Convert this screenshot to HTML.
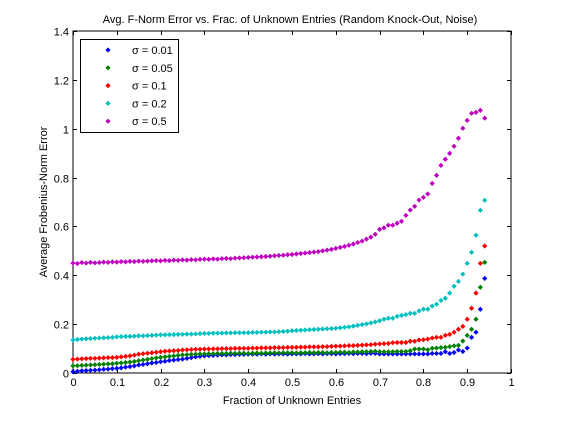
<!DOCTYPE html>
<html><head><meta charset="utf-8"><style>
body{margin:0;background:#fff;}
svg text{font-family:"Liberation Sans",sans-serif;font-size:11px;fill:#000;}
</style></head><body>
<svg id="chart" width="561" height="420">
<rect x="0" y="0" width="561" height="420" fill="#fff"/>
<g id="axes"></g>
<g id="marks"></g>
<g id="legend"></g>
</svg>
<script>
const xTicks=[0,0.1,0.2,0.3,0.4,0.5,0.6,0.7,0.8,0.9,1];
const xTickLabels=["0","0.1","0.2","0.3","0.4","0.5","0.6","0.7","0.8","0.9","1"];
const yTicks=[0,0.2,0.4,0.6,0.8,1,1.2,1.4];
const yTickLabels=["0","0.2","0.4","0.6","0.8","1","1.2","1.4"];
const seriesNames=["σ = 0.01","σ = 0.05","σ = 0.1","σ = 0.2","σ = 0.5"];
const fractions=Array.from({length:95},(_,i)=>i/100);
const sigma001=[0.005,0.007,0.009,0.010,0.011,0.012,0.013,0.015,0.016,0.018,0.019,0.021,0.024,0.026,0.029,0.033,0.035,0.038,0.041,0.043,0.046,0.048,0.051,0.053,0.055,0.057,0.060,0.063,0.066,0.068,0.070,0.071,0.072,0.073,0.074,0.074,0.075,0.075,0.076,0.076,0.077,0.077,0.077,0.078,0.077,0.078,0.077,0.078,0.078,0.077,0.078,0.078,0.078,0.079,0.078,0.078,0.079,0.078,0.079,0.079,0.078,0.079,0.079,0.080,0.079,0.080,0.080,0.079,0.081,0.080,0.078,0.078,0.078,0.078,0.078,0.078,0.078,0.078,0.078,0.078,0.078,0.078,0.080,0.080,0.080,0.087,0.080,0.084,0.094,0.088,0.102,0.146,0.167,0.261,0.387];
const sigma005=[0.029,0.030,0.031,0.032,0.033,0.034,0.035,0.036,0.037,0.038,0.040,0.041,0.043,0.045,0.047,0.050,0.053,0.056,0.059,0.062,0.064,0.066,0.068,0.070,0.072,0.074,0.075,0.076,0.077,0.078,0.078,0.079,0.079,0.080,0.080,0.080,0.081,0.080,0.081,0.081,0.080,0.081,0.082,0.081,0.082,0.082,0.083,0.082,0.083,0.083,0.083,0.082,0.083,0.083,0.084,0.083,0.084,0.084,0.083,0.084,0.084,0.085,0.085,0.084,0.086,0.086,0.087,0.087,0.088,0.089,0.087,0.087,0.087,0.087,0.088,0.088,0.088,0.091,0.098,0.098,0.098,0.095,0.101,0.102,0.104,0.105,0.108,0.111,0.113,0.131,0.154,0.179,0.220,0.351,0.453];
const sigma01=[0.056,0.057,0.058,0.059,0.060,0.060,0.061,0.062,0.063,0.063,0.064,0.066,0.068,0.070,0.073,0.077,0.079,0.081,0.083,0.085,0.087,0.089,0.090,0.091,0.092,0.094,0.095,0.096,0.097,0.097,0.098,0.098,0.099,0.099,0.100,0.100,0.100,0.101,0.101,0.101,0.101,0.102,0.102,0.103,0.103,0.103,0.104,0.104,0.104,0.105,0.105,0.105,0.106,0.106,0.107,0.107,0.107,0.108,0.108,0.109,0.110,0.110,0.111,0.112,0.112,0.113,0.114,0.115,0.116,0.118,0.119,0.120,0.121,0.124,0.125,0.125,0.125,0.130,0.130,0.135,0.136,0.139,0.143,0.146,0.146,0.154,0.158,0.167,0.179,0.191,0.220,0.265,0.327,0.449,0.520];
const sigma02=[0.135,0.137,0.139,0.140,0.141,0.142,0.143,0.144,0.145,0.146,0.148,0.149,0.150,0.150,0.151,0.152,0.152,0.153,0.154,0.155,0.156,0.156,0.157,0.157,0.158,0.158,0.159,0.159,0.160,0.161,0.162,0.162,0.163,0.163,0.163,0.164,0.164,0.165,0.165,0.165,0.165,0.166,0.166,0.167,0.167,0.168,0.168,0.169,0.170,0.171,0.173,0.174,0.175,0.176,0.177,0.178,0.179,0.180,0.181,0.182,0.183,0.185,0.187,0.189,0.192,0.195,0.198,0.201,0.205,0.209,0.214,0.220,0.224,0.224,0.232,0.236,0.239,0.244,0.244,0.254,0.261,0.261,0.274,0.282,0.297,0.306,0.327,0.355,0.375,0.405,0.449,0.494,0.564,0.666,0.707];
const sigma05=[0.450,0.448,0.452,0.450,0.453,0.451,0.452,0.454,0.453,0.455,0.454,0.456,0.455,0.457,0.456,0.458,0.457,0.458,0.459,0.460,0.459,0.461,0.460,0.462,0.461,0.463,0.462,0.464,0.463,0.465,0.466,0.465,0.467,0.466,0.468,0.469,0.468,0.470,0.471,0.472,0.473,0.474,0.475,0.476,0.477,0.478,0.480,0.481,0.482,0.484,0.485,0.487,0.489,0.491,0.493,0.495,0.497,0.500,0.503,0.506,0.510,0.514,0.518,0.523,0.528,0.534,0.540,0.548,0.556,0.568,0.588,0.594,0.605,0.605,0.613,0.621,0.645,0.667,0.682,0.708,0.719,0.733,0.776,0.809,0.850,0.875,0.899,0.928,0.961,1.002,1.034,1.063,1.067,1.075,1.043];

const X0=73,X1=511,Y0=373,Y1=31;
const xs=v=>X0+(v-0)/(1-0)*(X1-X0);
const ys=v=>Y0-(v-0)/(1.4-0)*(Y0-Y1);
const NS="http://www.w3.org/2000/svg";
function mk(tag,attrs,parent){const e=document.createElementNS(NS,tag);for(const k in attrs)e.setAttribute(k,attrs[k]);parent.appendChild(e);return e;}
const axes=document.getElementById('axes');
const marks=document.getElementById('marks');
const legend=document.getElementById('legend');

const frame=mk('rect',{x:X0,y:Y1,width:X1-X0,height:Y0-Y1,fill:'none',stroke:'#000','stroke-width':1,'shape-rendering':'crispEdges'},axes);


xTicks.forEach((t,i)=>{
  const x=Math.round(xs(t))+0.5;
  const a=mk('path',{d:`M${x},${Y0}v-4M${x},${Y1}v4`,stroke:'#000','stroke-width':1},axes);
  
  
  const l=mk('text',{x:x,y:Y0+13,'text-anchor':'middle'},axes);l.textContent=xTickLabels[i];
  
  
});
yTicks.forEach((t,i)=>{
  const y=Math.round(ys(t))+0.5;
  const a=mk('path',{d:`M${X0},${y}h4M${X1},${y}h-4`,stroke:'#000','stroke-width':1},axes);
  
  
  const l=mk('text',{x:X0-4,y:y+4,'text-anchor':'end'},axes);l.textContent=yTickLabels[i];
  
  
});
const title=mk('text',{x:290,y:23,'text-anchor':'middle'},axes);title.textContent="Avg. F-Norm Error vs. Frac. of Unknown Entries (Random Knock-Out, Noise)";


const xl=mk('text',{x:292,y:404,'text-anchor':'middle'},axes);xl.textContent="Fraction of Unknown Entries";


const yl=mk('text',{x:47,y:202,'text-anchor':'middle',transform:'rotate(-90 47 202)'},axes);yl.textContent="Average Frobenius-Norm Error";



const allSeries=[sigma001,sigma005,sigma01,sigma02,sigma05];
const colors=['#0000ff','#008000','#ff0000','#00bfbf','#bf00bf'];
function diamond(cx,cy,r){return `M${cx},${cy-r}L${cx+r},${cy}L${cx},${cy+r}L${cx-r},${cy}Z`;}
allSeries.forEach((s,si)=>{
  const g=mk('g',{},marks);
  
  
  s.forEach((v,i)=>{
    const p=mk('path',{d:diamond(xs(fractions[i]),ys(v),2.6),fill:colors[si]},g);
    
    
  });
});
const lb=mk('rect',{x:80.5,y:39.5,width:98,height:93,fill:'#fff',stroke:'#000','stroke-width':1},legend);


seriesNames.forEach((n,i)=>{
  const y=50+i*17.8;
  const g=mk('g',{},legend);
  
  
  mk('path',{d:diamond(108,y,2.6),fill:colors[i]},g);
  const t=mk('text',{x:132,y:y+4},g);t.textContent=n;
});
</script>
</body></html>
